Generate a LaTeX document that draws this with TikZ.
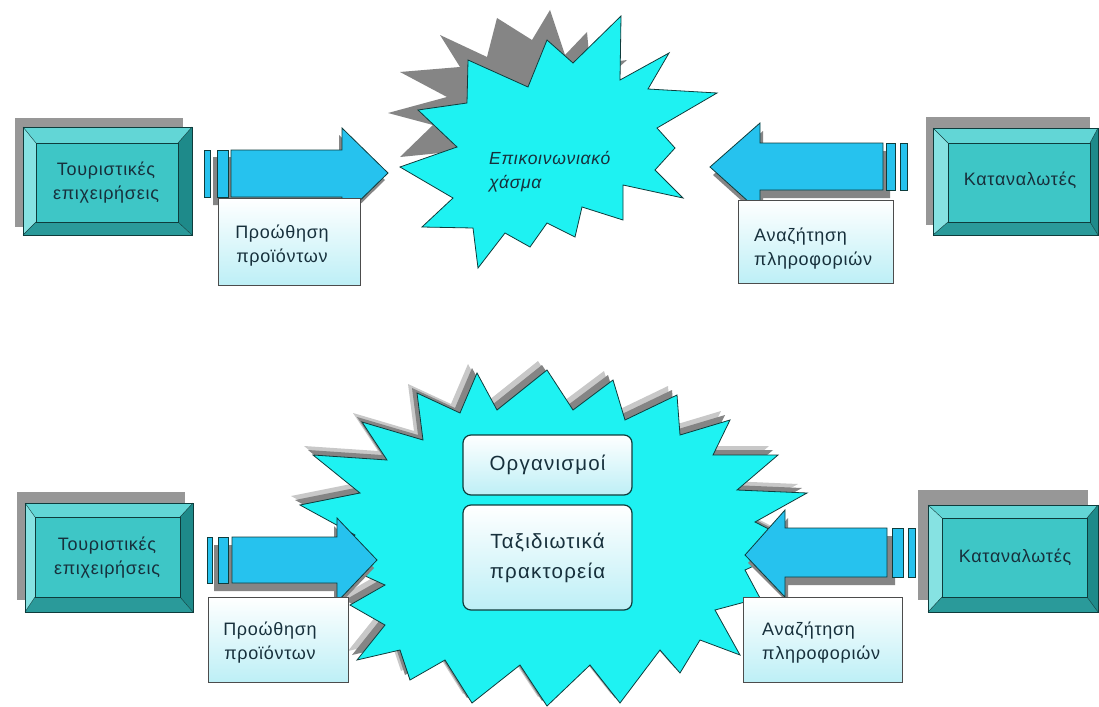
\documentclass[tikz,border=0pt]{standalone}
\usepackage{fontspec}
\setmainfont{Liberation Sans}
\newfontfamily\labfont[LetterSpace=4]{Liberation Sans}
\newfontfamily\bigfont[LetterSpace=6]{Liberation Sans}
\usetikzlibrary{calc}
\definecolor{face}{HTML}{3EC6C6}
\definecolor{bevtop}{HTML}{62D6D6}
\definecolor{bevleft}{HTML}{86E2E2}
\definecolor{bevright}{HTML}{1E8A8A}
\definecolor{bevbot}{HTML}{2A9A9A}
\definecolor{edge}{HTML}{0E3C3C}
\definecolor{arrowblue}{HTML}{26C2EE}
\definecolor{starcyan}{HTML}{1EF2F2}
\definecolor{shadowgray}{HTML}{858585}
\definecolor{lightcyan}{HTML}{BDEFF6}
\definecolor{txtcol}{HTML}{17303C}
\newcommand{\bevelbox}[8]{%
  \fill[bevtop] (#1,#2) -- (#3,#2) -- (#7,#6) -- (#5,#6) -- cycle;
  \fill[bevleft] (#1,#2) -- (#5,#6) -- (#5,#8) -- (#1,#4) -- cycle;
  \fill[bevright] (#3,#2) -- (#3,#4) -- (#7,#8) -- (#7,#6) -- cycle;
  \fill[bevbot] (#1,#4) -- (#5,#8) -- (#7,#8) -- (#3,#4) -- cycle;
  \fill[face] (#5,#6) rectangle (#7,#8);
  \draw[edge, line width=0.8pt] (#1,#2) rectangle (#3,#4);
  \draw[edge, line width=0.8pt] (#5,#6) rectangle (#7,#8);
  \draw[edge, line width=0.4pt] (#1,#2) -- (#5,#6) (#3,#2) -- (#7,#6) (#1,#4) -- (#5,#8) (#3,#4) -- (#7,#8);
}
\tikzset{
  boxtxt/.style={text=txtcol, font=\labfont\fontsize{18}{24}\selectfont, align=center, inner sep=0pt},
  labelbox/.style={draw=black!70, line width=0.9pt, top color=white, bottom color=lightcyan},
  arrowshape/.style={fill=arrowblue, draw=edge, line width=0.8pt},
  barshape/.style={fill=arrowblue, draw=edge, line width=0.6pt},
  arrowshadow/.style={fill=shadowgray},
  innerbox/.style={draw=edge, line width=1.2pt, rounded corners=8pt, top color=white, bottom color=lightcyan},
  startxt/.style={text=txtcol, font=\labfont\fontsize{17.5}{24}\selectfont\itshape, align=left, inner sep=0pt},
  bigtxt/.style={text=txtcol, font=\bigfont\fontsize{20.5}{30}\selectfont, align=center, inner sep=0pt},
}
\begin{document}
\begin{tikzpicture}[x=1pt,y=-1pt]
\useasboundingbox (0,0) rectangle (1099,706);
\fill[white] (0,0) rectangle (1099,706);

%% ================= TOP ROW =================
% star shadow
\fill[shadowgray] (388,113) -- (433,125) -- (400,157) -- (470,150) -- (560,120) -- (627,60) -- (590,65) -- (587,32) -- (565,55) -- (550,10) -- (532,40) -- (497,18) -- (487,57) -- (440,35) -- (460,67) -- (400,72) -- (447,97) -- cycle;
% star
\filldraw[fill=starcyan, draw=edge, line width=0.8pt]
  (468,60) -- (528,87) -- (547,40) -- (573,63) -- (621,16) -- (620,80) -- (669,53) -- (648,89) -- (717,93) -- (657,128) -- (675,148) -- (655,170) -- (683,198) -- (623,185) -- (623,220) -- (582,207) -- (575,237) -- (547,223) -- (530,247) -- (505,233) -- (478,268) -- (473,228) -- (422,227) -- (453,198) -- (400,167) -- (457,147) -- (418,110) -- (467,103) -- cycle;
\node[startxt, anchor=west] (gap) at (489,172) {Επικοινωνιακό\\χάσμα};

% left box
\fill[shadowgray!85] (15,118) rectangle (183,227);
\bevelbox{23}{127}{192}{235}{36}{143}{178}{222}
\node[boxtxt] (tour1) at (106,183) {Τουριστικές\\επιχειρήσεις};

% left arrow
\fill[arrowshadow] (213,157) -- (339,157) -- (339,135) -- (385,180) -- (339,225) -- (339,205) -- (213,205) -- cycle;
\filldraw[arrowshape] (231,150) -- (342,150) -- (342,128) -- (388,173) -- (342,218) -- (342,197) -- (231,197) -- cycle;
\filldraw[barshape] (217,150) rectangle (228,197);
\filldraw[barshape] (204,150) rectangle (210,197);
\draw[labelbox] (218,198) rectangle (360,285);
\node[boxtxt] (promo1) at (282,246) {Προώθηση\\προϊόντων};

% right box
\fill[shadowgray!85] (926,117) rectangle (1090,225);
\bevelbox{933}{128}{1098}{235}{948}{143}{1090}{222}
\node[boxtxt] (cons1) at (1020,180) {Καταναλωτές};

% right arrow
\fill[arrowshadow] (890,151) -- (763,151) -- (763,131) -- (713,175) -- (763,220) -- (763,198) -- (890,198) -- cycle;
\filldraw[arrowshape] (883,143) -- (760,143) -- (760,123) -- (710,167) -- (760,212) -- (760,190) -- (883,190) -- cycle;
\filldraw[barshape] (886,143) rectangle (895,190);
\filldraw[barshape] (900,143) rectangle (907,190);
\draw[labelbox] (738,200) rectangle (893,283);
\node[boxtxt, align=left, anchor=west] (search1) at (754,249) {Αναζήτηση\\πληροφοριών};

%% ================= BOTTOM ROW =================
% star shadows
\begin{scope}[shift={(-9,-9)}]
\fill[shadowgray!45]
  (477,373) -- (497,410) -- (547,370) -- (573,410) -- (613,380) -- (625,420) -- (677,395) -- (680,435) -- (730,420) -- (713,455) -- (778,455) -- (737,490) -- (807,493) -- (755,522) -- (800,545) -- (745,570) -- (760,598) -- (715,610) -- (740,655) -- (700,640) -- (680,673) -- (660,650) -- (620,703) -- (590,665) -- (547,706) -- (520,665) -- (472,703) -- (445,660) -- (410,680) -- (400,650) -- (357,660) -- (385,625) -- (350,605) -- (385,585) -- (330,560) -- (355,535) -- (300,505) -- (360,493) -- (313,455) -- (387,460) -- (362,422) -- (423,440) -- (417,393) -- (460,413) -- cycle;
\end{scope}
\begin{scope}[shift={(-5,-5)}]
\fill[shadowgray]
  (477,373) -- (497,410) -- (547,370) -- (573,410) -- (613,380) -- (625,420) -- (677,395) -- (680,435) -- (730,420) -- (713,455) -- (778,455) -- (737,490) -- (807,493) -- (755,522) -- (800,545) -- (745,570) -- (760,598) -- (715,610) -- (740,655) -- (700,640) -- (680,673) -- (660,650) -- (620,703) -- (590,665) -- (547,706) -- (520,665) -- (472,703) -- (445,660) -- (410,680) -- (400,650) -- (357,660) -- (385,625) -- (350,605) -- (385,585) -- (330,560) -- (355,535) -- (300,505) -- (360,493) -- (313,455) -- (387,460) -- (362,422) -- (423,440) -- (417,393) -- (460,413) -- cycle;
\end{scope}
% star
\filldraw[fill=starcyan, draw=edge, line width=0.8pt]
  (477,373) -- (497,410) -- (547,370) -- (573,410) -- (613,380) -- (625,420) -- (677,395) -- (680,435) -- (730,420) -- (713,455) -- (778,455) -- (737,490) -- (807,493) -- (755,522) -- (800,545) -- (745,570) -- (760,598) -- (715,610) -- (740,655) -- (700,640) -- (680,673) -- (660,650) -- (620,703) -- (590,665) -- (547,706) -- (520,665) -- (472,703) -- (445,660) -- (410,680) -- (400,650) -- (357,660) -- (385,625) -- (350,605) -- (385,585) -- (330,560) -- (355,535) -- (300,505) -- (360,493) -- (313,455) -- (387,460) -- (362,422) -- (423,440) -- (417,393) -- (460,413) -- cycle;
\node[innerbox, minimum width=169pt, minimum height=60pt] (org) at (547.5,465) {};
\node[bigtxt] at (org.center) {Οργανισμοί};
\node[innerbox, minimum width=169pt, minimum height=105pt] (agency) at (547.5,557.5) {};
\node[bigtxt] at (agency.center) {Ταξιδιωτικά\\πρακτορεία};

% left box
\fill[shadowgray!85] (17,492) rectangle (185,600);
\bevelbox{25}{503}{193}{612}{35}{517}{180}{597}
\node[boxtxt] (tour2) at (107,558) {Τουριστικές\\επιχειρήσεις};

% left arrow
\fill[arrowshadow] (214,545) -- (334,545) -- (334,526) -- (374,568) -- (334,610) -- (334,591) -- (214,591) -- cycle;
\filldraw[arrowshape] (232,537) -- (337,537) -- (337,518) -- (377,560) -- (337,602) -- (337,583) -- (232,583) -- cycle;
\filldraw[barshape] (218,537) rectangle (228,583);
\filldraw[barshape] (207,537) rectangle (212,583);
\draw[labelbox] (208,597) rectangle (348,682);
\node[boxtxt] (promo2) at (270,643) {Προώθηση\\προϊόντων};

% right box
\fill[shadowgray!85] (918,490) rectangle (1088,600);
\bevelbox{928}{505}{1098}{612}{942}{518}{1087}{597}
\node[boxtxt] (cons2) at (1015,557) {Καταναλωτές};

% right arrow
\fill[arrowshadow] (895,536) -- (788,536) -- (788,518) -- (748,563) -- (788,603) -- (788,585) -- (895,585) -- cycle;
\filldraw[arrowshape] (887,528) -- (785,528) -- (785,510) -- (745,555) -- (785,597) -- (785,577) -- (887,577) -- cycle;
\filldraw[barshape] (892,528) rectangle (903,577);
\filldraw[barshape] (908,528) rectangle (915,577);
\draw[labelbox] (743,597) rectangle (902,682);
\node[boxtxt, align=left, anchor=west] (search2) at (762,643) {Αναζήτηση\\πληροφοριών};
\end{tikzpicture}
\end{document}
